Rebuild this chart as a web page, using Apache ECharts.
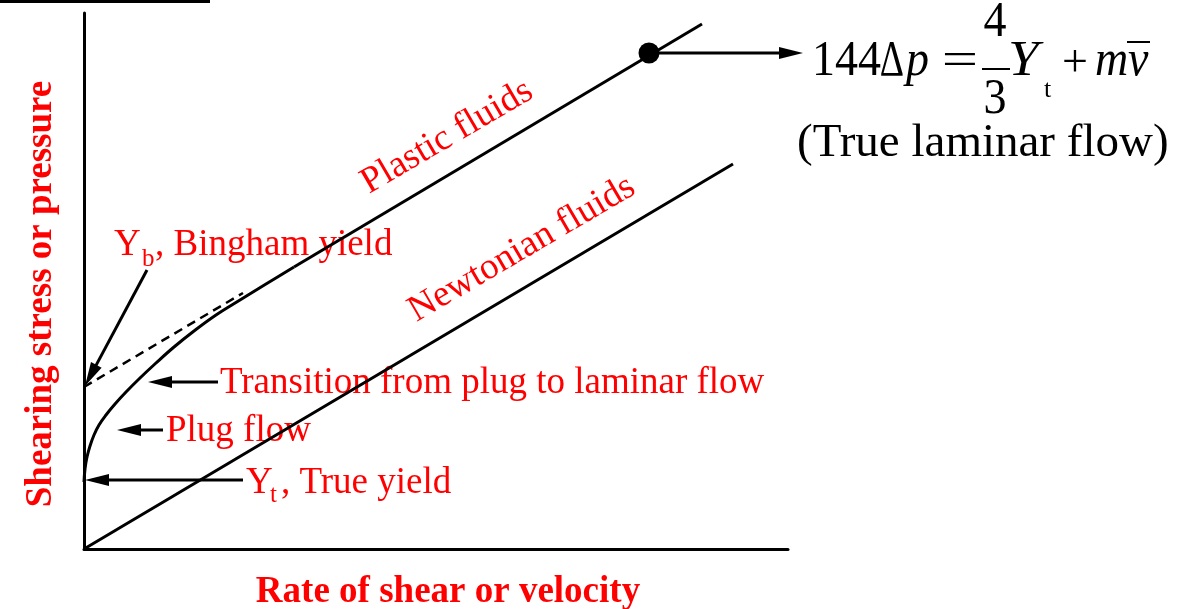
<!DOCTYPE html>
<html>
<head>
<meta charset="utf-8">
<script src="https://cdn.jsdelivr.net/npm/echarts@6/dist/echarts.min.js"></script>
<style>
  html, body { margin: 0; padding: 0; background: #fff; }
  #chart { width: 1180px; height: 609px; }
</style>
</head>
<body>
<div id="chart"></div>
<script>
// qualitative diagram: units are arbitrary (rate of shear vs shearing stress)
var xRange = [0, 704];
var yRange = [0, 536];

var newtonian = [[0, 0], [649, 385]];
// plug flow -> transition curve starting at the true yield point
var plasticCurve = [[0, 67], [1, 80], [3, 92], [6, 103], [10, 114], [15, 124], [22, 134],
  [31, 145], [42, 157], [56, 171], [72, 186], [90, 202], [110, 218], [132, 234],
  [156, 249], [182, 265], [210, 282]];
var plasticLine = [[210, 282], [618, 525]];
var binghamExtension = [[0, 162], [159, 256]];
var laminarPoint = [[565, 496]];
// [fromX, fromY, tipX, tipY]
var arrows = [
  [63, 279, 1, 163],
  [134, 167, 64, 167],
  [79, 119, 33, 119],
  [159, 69, 1, 69],
  [565, 496, 719, 496]
];

var serif = '"Liberation Serif", "Times New Roman", serif';
var red = '#ff0000';

function renderArrow(params, api) {
  var p1 = api.coord([api.value(0), api.value(1)]);
  var p2 = api.coord([api.value(2), api.value(3)]);
  var dx = p2[0] - p1[0], dy = p2[1] - p1[1];
  var len = Math.sqrt(dx * dx + dy * dy);
  var ux = dx / len, uy = dy / len;
  var headLen = 24, headW = 6;
  var bx = p2[0] - ux * headLen, by = p2[1] - uy * headLen;
  return {
    type: 'group',
    children: [
      { type: 'line', shape: { x1: p1[0], y1: p1[1], x2: bx + ux * 2, y2: by + uy * 2 },
        style: { stroke: '#000', lineWidth: 3 } },
      { type: 'polygon',
        shape: { points: [[p2[0], p2[1]], [bx - uy * headW, by + ux * headW], [bx + uy * headW, by - ux * headW]] },
        style: { fill: '#000' } }
    ]
  };
}

function txt(x, y, text, size, opts) {
  opts = opts || {};
  return {
    type: 'text', x: x, y: y, rotation: opts.rotation || 0,
    scaleX: opts.scaleX || 1,
    scaleY: opts.scaleY || 1,
    style: {
      text: text,
      font: (opts.style || '') + ' ' + (opts.weight || 'normal') + ' ' + size + 'px ' + serif,
      fill: opts.color || red,
      align: opts.align || 'left',
      verticalAlign: 'middle'
    }
  };
}

var chart = echarts.init(document.getElementById('chart'));

var axisCommon = {
  type: 'value',
  axisLine: { show: true, onZero: false, lineStyle: { color: '#000', width: 3 } },
  axisTick: { show: false },
  axisLabel: { show: false },
  splitLine: { show: false }
};

var eq = { color: '#000', scaleY: 1.1 };

chart.setOption({
  animation: false,
  backgroundColor: '#fff',
  grid: { left: 84, top: 13, width: 704, height: 536 },
  xAxis: Object.assign({}, axisCommon, { min: xRange[0], max: xRange[1] }),
  yAxis: Object.assign({}, axisCommon, { min: yRange[0], max: yRange[1] }),
  series: [
    { type: 'line', data: newtonian, showSymbol: false, lineStyle: { color: '#000', width: 3 } },
    { type: 'line', data: plasticCurve, showSymbol: false, smooth: 0.4, lineStyle: { color: '#000', width: 3 } },
    { type: 'line', data: plasticLine, showSymbol: false, lineStyle: { color: '#000', width: 3 } },
    { type: 'line', data: binghamExtension, showSymbol: false,
      lineStyle: { color: '#000', width: 2.5, type: [9, 6] } },
    { type: 'custom', data: arrows, renderItem: renderArrow, clip: false,
      encode: { x: [0, 2], y: [1, 3] } },
    { type: 'scatter', data: laminarPoint, symbolSize: 21, itemStyle: { color: '#000', opacity: 1 } }
  ],
  graphic: [
    { type: 'rect', shape: { x: 0, y: 0, width: 210, height: 3 }, style: { fill: '#000' } },
    // axis titles
    txt(448, 592, 'Rate of shear or velocity', 37, { weight: 'bold', align: 'center' }),
    txt(41, 294, 'Shearing stress or pressure', 37, { weight: 'bold', align: 'center', rotation: Math.PI / 2 }),
    // curve labels
    txt(447, 137, 'Plastic fluids', 37, { align: 'center', rotation: 0.53 }),
    txt(522, 249, 'Newtonian fluids', 37, { align: 'center', rotation: 0.53 }),
    txt(114, 245, 'Y', 37),
    txt(142, 259, 'b', 25),
    txt(155, 245, ', Bingham yield', 37),
    txt(220, 383, 'Transition from plug to laminar flow', 37),
    txt(166, 431, 'Plug flow', 37),
    txt(246, 483, 'Y', 37),
    txt(270, 495, 't', 25),
    txt(281, 483, ', True yield', 37),
    // equation
    txt(812, 62, '144', 46, eq),
    txt(892, 62, '\u0394', 46, { color: '#000', scaleY: 1.1, scaleX: 0.82, align: 'center' }),
    txt(906, 62, 'p', 46, { color: '#000', scaleY: 1.1, style: 'italic' }),
    txt(960, 62, '=', 46, { color: '#000', scaleX: 1.4, align: 'center' }),
    txt(995, 23, '4', 46, { color: '#000', scaleY: 1.1, align: 'center' }),
    txt(995, 100, '3', 46, { color: '#000', scaleY: 1.1, align: 'center' }),
    { type: 'line', shape: { x1: 982, y1: 69, x2: 1010, y2: 69 }, style: { stroke: '#000', lineWidth: 2 } },
    txt(1008, 62, 'Y', 46, { color: '#000', scaleY: 1.1, scaleX: 1.2, style: 'italic' }),
    txt(1044, 90, 't', 26, { color: '#000' }),
    txt(1075, 64, '+', 46, { color: '#000', align: 'center' }),
    txt(1095, 62, 'm', 46, { color: '#000', scaleY: 1.1, style: 'italic' }),
    txt(1128, 62, 'v', 46, { color: '#000', scaleY: 1.1, style: 'italic' }),
    { type: 'line', shape: { x1: 1127, y1: 42, x2: 1150, y2: 42 }, style: { stroke: '#000', lineWidth: 2 } },
    txt(797, 144, '(True laminar flow)', 47, { color: '#000' })
  ]
});
</script>
</body>
</html>
